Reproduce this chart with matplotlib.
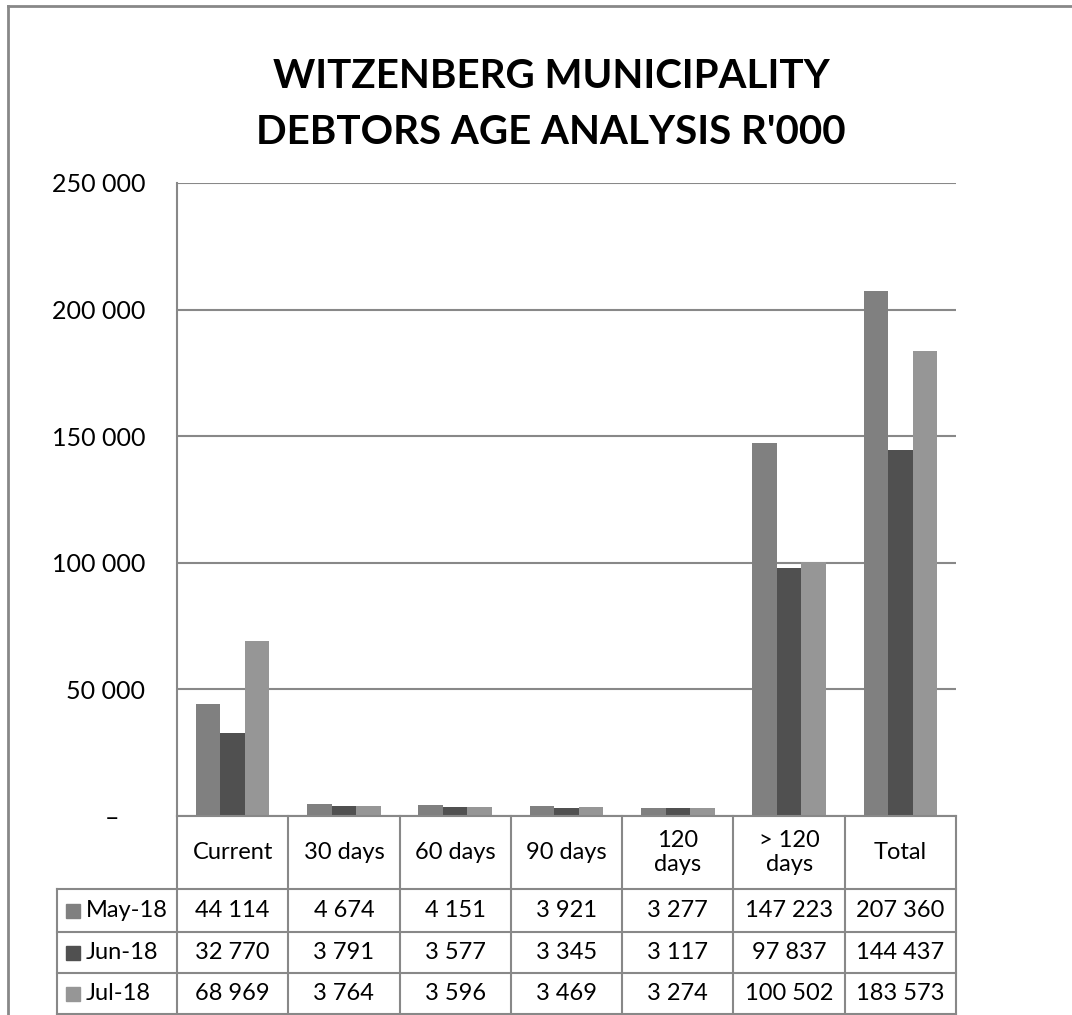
import matplotlib
matplotlib.use("Agg")
import matplotlib.pyplot as plt
from matplotlib.patches import Rectangle
from matplotlib.lines import Line2D

categories = ["Current", "30 days", "60 days", "90 days", "120\ndays", "> 120\ndays", "Total"]
series_names = ["May-18", "Jun-18", "Jul-18"]
may_18 = [44114, 4674, 4151, 3921, 3277, 147223, 207360]
jun_18 = [32770, 3791, 3577, 3345, 3117, 97837, 144437]
jul_18 = [68969, 3764, 3596, 3469, 3274, 100502, 183573]
yticks = [0, 50000, 100000, 150000, 200000, 250000]
ytick_labels = ["–    ", "50 000", "100 000", "150 000", "200 000", "250 000"]
colors = ["#808080", "#505050", "#969696"]

FONT = "Lato"
FS = 17
W, H = 1072, 1015
fig = plt.figure(figsize=(W / 100, H / 100), dpi=100)

def fx(px):
    return px / W

def fy(py):
    return 1 - py / H

ax_l, ax_r, ax_t, ax_b = 177, 956, 183, 816
ax = fig.add_axes([fx(ax_l), fy(ax_b), fx(ax_r - ax_l), (ax_b - ax_t) / H])

series = [may_18, jun_18, jul_18]
n = len(categories)
bw = 0.22
for i, (vals, c) in enumerate(zip(series, colors)):
    xs = [k + (i - 1) * bw for k in range(n)]
    ax.bar(xs, vals, width=bw, color=c, zorder=3, linewidth=0)

ax.set_xlim(-0.5, n - 0.5)
ax.set_ylim(0, 250000)
ax.set_yticks(yticks)
ax.set_yticklabels(ytick_labels, fontsize=18, family=FONT)
ax.tick_params(axis="y", length=0, pad=23)
ax.set_xticks([])
ax.yaxis.grid(True, color="#888888", linewidth=1.5, zorder=0)
for s in ["top", "right", "bottom"]:
    ax.spines[s].set_visible(False)
ax.spines["left"].set_color("#888888")
ax.spines["left"].set_linewidth(1.5)

# Title
fig.text(0.514, fy(76), "WITZENBERG MUNICIPALITY", ha="center", va="center",
         fontsize=29, fontweight="bold", family=FONT)
fig.text(0.514, fy(132), "DEBTORS AGE ANALYSIS R'000", ha="center", va="center",
         fontsize=29, fontweight="bold", family=FONT)

# Data table
lc = "#888888"
lw = 1.5
row_y = [816, 889, 932, 973, 1014]
col_x = [ax_l + (ax_r - ax_l) * k / n for k in range(n + 1)]
tbl_left = 57

def hline(y, x0, x1):
    fig.add_artist(Line2D([fx(x0), fx(x1)], [fy(y), fy(y)], color=lc, lw=lw))

def vline(x, y0, y1):
    fig.add_artist(Line2D([fx(x), fx(x)], [fy(y0), fy(y1)], color=lc, lw=lw))

hline(row_y[0], ax_l, ax_r)
for y in row_y[1:]:
    hline(y, tbl_left, ax_r)
for x in col_x:
    vline(x, row_y[0], row_y[-1])
vline(tbl_left, row_y[1], row_y[-1])

for k, cat in enumerate(categories):
    cx = (col_x[k] + col_x[k + 1]) / 2
    fig.text(fx(cx), fy((row_y[0] + row_y[1]) / 2), cat, ha="center", va="center",
             fontsize=FS, family=FONT, linespacing=1.15)

for r, (name, vals, c) in enumerate(zip(series_names, series, colors)):
    cy = (row_y[r + 1] + row_y[r + 2]) / 2
    fig.add_artist(Rectangle((fx(66), fy(cy + 7)), fx(14), 14 / H, color=c))
    fig.text(fx(86), fy(cy), name, ha="left", va="center", fontsize=FS, family=FONT)
    for k, v in enumerate(vals):
        cx = (col_x[k] + col_x[k + 1]) / 2
        fig.text(fx(cx), fy(cy), f"{v:,}".replace(",", " "), ha="center", va="center",
                 fontsize=FS, family=FONT)

# Outer border (left and top)
fig.add_artist(Line2D([fx(8), fx(8)], [fy(6), fy(H)], color="#888888", lw=2))
fig.add_artist(Line2D([fx(8), fx(W)], [fy(6), fy(6)], color="#888888", lw=2))

fig.savefig("out.png", dpi=100)
